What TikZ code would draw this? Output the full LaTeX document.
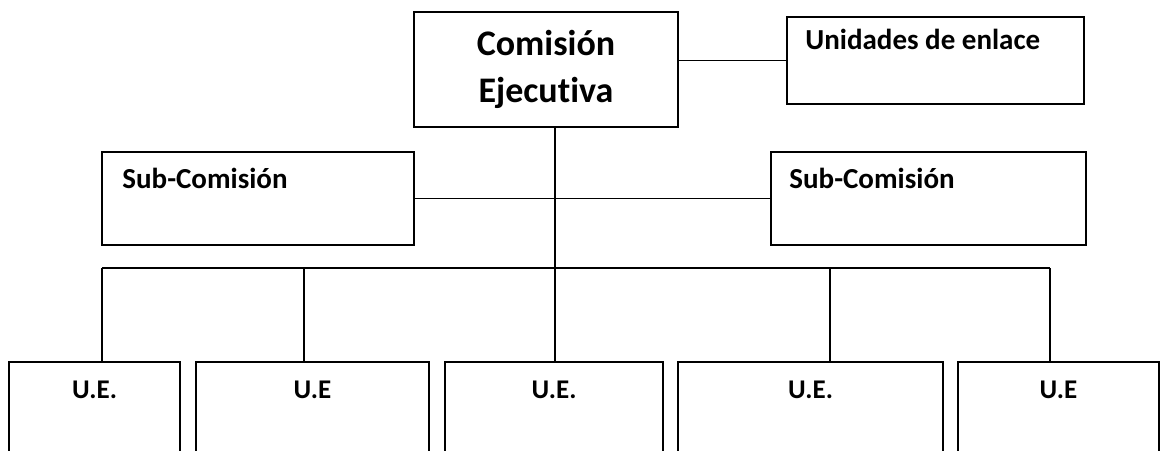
\documentclass[tikz,border=0pt]{standalone}
\usepackage{fontspec}
\setmainfont{Carlito}[Ligatures=NoCommon]
\usetikzlibrary{positioning}

\tikzset{
  orgbox/.style={draw, line width=1.6pt, inner sep=0pt},
  orglabel/.style={font=\fontsize{29}{34}\selectfont\bfseries, inner sep=0pt},
  uelabel/.style={font=\fontsize{27}{32}\selectfont\bfseries, inner sep=0pt},
  orglink/.style={line width=1.6pt}
}

\begin{document}
\begin{tikzpicture}[x=1pt, y=-1pt]
  \useasboundingbox (0,0) rectangle (1162,450);
  \clip (0,0) rectangle (1162,450);

  % top level
  \node[orgbox, minimum width=264pt, minimum height=115pt, align=center,
        font=\fontsize{36}{47}\selectfont\bfseries] (ce) at (546,69.5) {Comisión\\Ejecutiva};
  \node[orgbox, minimum width=297pt, minimum height=87pt,
        label={[orglabel, anchor=base west, xshift=19pt, yshift=-33pt]north west:Unidades de enlace}]
        (uen) at (935.5,60.5) {};

  % sub-comisiones
  \node[orgbox, minimum width=312pt, minimum height=93pt,
        label={[orglabel, anchor=base west, xshift=21pt, yshift=-37pt]north west:Sub-Comisión}]
        (sc1) at (258,198.5) {};
  \node[orgbox, minimum width=315pt, minimum height=93pt,
        label={[orglabel, anchor=base west, xshift=19pt, yshift=-37pt]north west:Sub-Comisión}]
        (sc2) at (928.5,198.5) {};

  % unidades ejecutoras
  \foreach \l/\r/\d/\t [count=\i] in {9/180/102/U.E., 196/429/304/U.E, 445/663/555/U.E.,
                                      678/943/830/U.E., 958/1159/1050/U.E}{
    \node[orgbox, minimum width={(\r-\l)*1pt}, minimum height=100pt,
          label={[uelabel, anchor=base, yshift=-37pt]north:\t}]
          (u\i) at ({(\l+\r)/2},412) {};
    \coordinate (d\i) at (\d,268);
    \draw[orglink] (d\i) -- (d\i |- u\i.north);
  }

  % connectors
  \draw[orglink] (uen.west) -- (uen.west -| ce.east);
  \draw[orglink] (d3 |- ce.south) -- (d3);
  \draw[orglink] (sc1.east) -- (sc2.west);
  \draw[orglink] (d1) -- (d5);
\end{tikzpicture}
\end{document}
